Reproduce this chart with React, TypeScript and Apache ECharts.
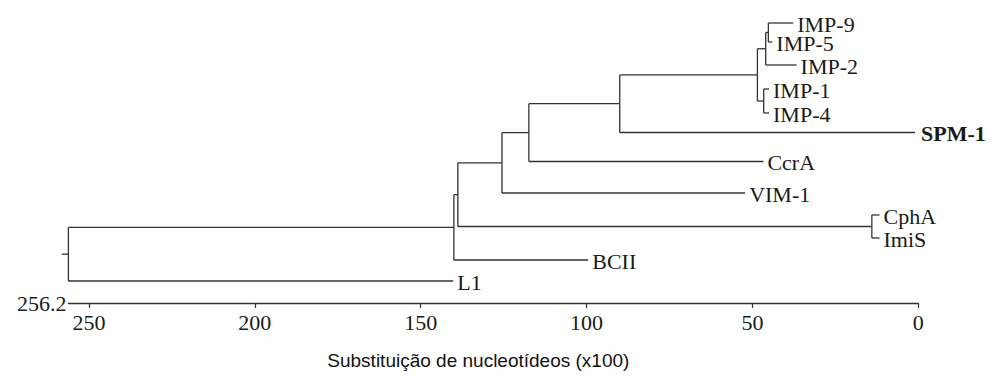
import React, { useEffect, useRef } from "react";
import * as echarts from "echarts";

// Leaves (top to bottom): name, row position, x where the branch ends
const leafNames = ["IMP-9", "IMP-5", "IMP-2", "IMP-1", "IMP-4", "SPM-1", "CcrA", "VIM-1", "CphA", "ImiS", "BCII", "L1"];
const leafRows = [23, 42, 65, 89, 113, 132.5, 161.5, 193, 215, 238, 260, 281];
const leafEnds = [37.7, 44.0, 36.7, 45.0, 45.0, 1.0, 46.7, 52.2, 11.7, 11.7, 99.5, 140.2];
const boldLeaves = ["SPM-1"];

// Internal nodes (children listed before parents)
const nodeNames = ["n95", "n952", "n14", "nIMP", "A", "B", "C", "nCI", "D", "E", "root"];
const nodeHeights = [45.2, 46.0, 46.6, 48.5, 90.0, 117.4, 125.5, 14.0, 138.8, 140.0, 256.2];
const nodeChildren = [
  ["IMP-9", "IMP-5"],
  ["n95", "IMP-2"],
  ["IMP-1", "IMP-4"],
  ["n952", "n14"],
  ["nIMP", "SPM-1"],
  ["A", "CcrA"],
  ["B", "VIM-1"],
  ["CphA", "ImiS"],
  ["C", "nCI"],
  ["D", "BCII"],
  ["E", "L1"],
];
const rootStubEnd = 258.2;

const axisMax = 256.2;
const tickValues = [0, 50, 100, 150, 200, 250];
const rowMax = 303;
const axisTitle = "Substituição de nucleotídeos (x100)";

function buildSegments() {
  const pos: Record<string, { x: number; y: number }> = {};
  leafNames.forEach((n, i) => (pos[n] = { x: leafEnds[i], y: leafRows[i] }));
  const segs: number[][] = [];
  nodeNames.forEach((n, i) => {
    const h = nodeHeights[i];
    const [a, b] = nodeChildren[i];
    const pa = pos[a];
    const pb = pos[b];
    segs.push([h, pa.y, pa.x, pa.y]);
    segs.push([h, pb.y, pb.x, pb.y]);
    segs.push([h, pa.y, h, pb.y]);
    pos[n] = { x: h, y: (pa.y + pb.y) / 2 };
  });
  const r = pos["root"];
  segs.push([rootStubEnd, r.y, r.x, r.y]);
  return segs;
}

const SERIF = "'Liberation Serif', 'Times New Roman', serif";
const SANS = "'Liberation Sans', Arial, sans-serif";
const LINE = "#333";
const TEXT = "#1a1a1a";

export default function App() {
  const ref = useRef<HTMLDivElement>(null);
  useEffect(() => {
    if (!ref.current) return;
    const chart = echarts.init(ref.current, null, { renderer: "svg" });
    const segs = buildSegments();
    const labelData = leafNames.map((n, i) => [leafEnds[i], leafRows[i]]);

    chart.setOption({
      animation: false,
      grid: { left: 68.4, right: 71.7, top: 0, height: rowMax },
      xAxis: {
        type: "value",
        inverse: true,
        min: 0,
        max: axisMax,
        position: "bottom",
        splitLine: { show: false },
        axisLine: { show: true, onZero: false, lineStyle: { color: LINE, width: 1.3 } },
        axisTick: {
          show: true,
          customValues: tickValues,
          length: 5,
          inside: false,
          lineStyle: { color: LINE, width: 1.2 },
        },
        axisLabel: {
          customValues: tickValues,
          margin: 8,
          fontFamily: SERIF,
          fontSize: 22,
          color: TEXT,
        },
        name: axisTitle,
        nameLocation: "middle",
        nameGap: 48,
        nameTextStyle: {
          fontFamily: SANS,
          fontSize: 19,
          color: "#111",
          padding: [0, 30, 0, 0],
        },
      },
      yAxis: {
        type: "value",
        inverse: true,
        min: 0,
        max: rowMax,
        show: false,
      },
      series: [
        {
          type: "custom",
          clip: false,
          silent: true,
          encode: { x: [0, 2], y: [1, 3] },
          data: segs,
          renderItem: (params: any, api: any) => {
            const p1 = api.coord([api.value(0), api.value(1)]);
            const p2 = api.coord([api.value(2), api.value(3)]);
            return {
              type: "line",
              shape: { x1: p1[0], y1: p1[1], x2: p2[0], y2: p2[1] },
              style: { stroke: LINE, lineWidth: 1.3 },
            };
          },
        },
        {
          type: "custom",
          clip: false,
          silent: true,
          encode: { x: 0, y: 1 },
          data: labelData,
          renderItem: (params: any, api: any) => {
            const p = api.coord([api.value(0), api.value(1)]);
            const name = leafNames[params.dataIndex];
            const bold = boldLeaves.includes(name);
            return {
              type: "text",
              x: p[0] + (bold ? 6 : 4),
              y: p[1] + 1,
              style: {
                text: name,
                fill: TEXT,
                fontFamily: SERIF,
                fontSize: 22,
                lineHeight: 17,
                fontWeight: bold ? "bold" : "normal",
                align: "left",
                verticalAlign: "middle",
              },
            };
          },
        },
        {
          type: "custom",
          clip: false,
          silent: true,
          encode: { x: 0, y: 1 },
          data: [[axisMax, rowMax]],
          renderItem: (params: any, api: any) => {
            const p = api.coord([api.value(0), api.value(1)]);
            return {
              type: "text",
              x: p[0] - 2,
              y: p[1],
              style: {
                text: String(axisMax),
                fill: TEXT,
                fontFamily: SERIF,
                fontSize: 22,
                align: "right",
                verticalAlign: "middle",
              },
            };
          },
        },
      ],
    });
    return () => chart.dispose();
  }, []);

  return (
    <div
      ref={ref}
      style={{ position: "fixed", left: 0, top: 0, width: 990, height: 376, background: "#fff" }}
    />
  );
}
